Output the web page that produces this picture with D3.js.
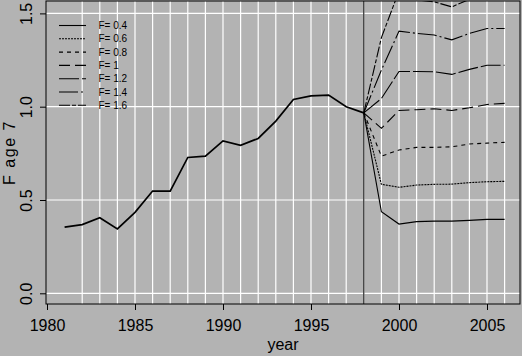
<!DOCTYPE html>
<html>
<head>
<meta charset="utf-8">
<script src="https://cdn.jsdelivr.net/npm/d3@7"></script>
<style>
  html, body { margin: 0; padding: 0; background: #b3b3b3; }
  svg { display: block; }
  text { font-family: "Liberation Sans", Arial, Helvetica, sans-serif; fill: #000; }
</style>
</head>
<body>
<svg id="chart" width="522" height="356"></svg>
<script>
// ---- data ----
const histYears = [1981,1982,1983,1984,1985,1986,1987,1988,1989,1990,1991,1992,1993,1994,1995,1996,1997,1998];
const histF = [0.355,0.368,0.405,0.345,0.434,0.548,0.548,0.728,0.735,0.817,0.793,0.830,0.923,1.039,1.058,1.062,1.000,0.967];

const projYears = [1998,1999,2000,2001,2002,2003,2004,2005,2006];
const projF04 = [0.967,0.437,0.371,0.384,0.387,0.387,0.391,0.396,0.396];
const projF06 = [0.967,0.584,0.568,0.580,0.584,0.585,0.593,0.598,0.600];
const projF08 = [0.967,0.735,0.768,0.782,0.782,0.785,0.800,0.805,0.809];
const projF10 = [0.967,0.884,0.980,0.984,0.989,0.980,0.994,1.012,1.018];
const projF12 = [0.967,1.044,1.189,1.189,1.187,1.173,1.200,1.222,1.222];
const projF14 = [0.967,1.196,1.405,1.393,1.384,1.358,1.393,1.419,1.419];
const projF16 = [0.967,1.370,1.620,1.572,1.562,1.535,1.575,1.608,1.615];

const seriesLabels = ["F= 0.4","F= 0.6","F= 0.8","F= 1","F= 1.2","F= 1.4","F= 1.6"];
const seriesValues = [projF04, projF06, projF08, projF10, projF12, projF14, projF16];
const seriesDash = ["none","2,1","4,4","11,5","20,3","19,3,2,3","11,2,4,2"];

const xTicks = [1980,1985,1990,1995,2000,2005];
const yTicks = [0.0,0.5,1.0,1.5];
const yTickLabels = ["0.0","0.5","1.0","1.5"];
const gridYears = d3.range(1982, 2007);
const refYear = 1998;

// ---- layout ----
const box = {left: 46, right: 520, top: 1, bottom: 304};
const svg = d3.select("#chart");

const x = d3.scaleLinear()
  .domain([1980 - 1/17.6, 1980 + 473/17.6])
  .range([box.left, box.right]);
const y = d3.scaleLinear()
  .domain([-0.0573, 1.5664])
  .range([box.bottom, box.top]);

// clip
svg.append("defs").append("clipPath").attr("id","clip")
  .append("rect").attr("x", box.left).attr("y", box.top)
  .attr("width", box.right - box.left).attr("height", box.bottom - box.top);

// grid
const grid = svg.append("g");
grid.selectAll("line.v").data(gridYears).join("line")
  .attr("x1", d => x(d)).attr("x2", d => x(d))
  .attr("y1", box.top).attr("y2", box.bottom)
  .attr("stroke", "#fff").attr("stroke-width", 1.2);
grid.selectAll("line.h").data(yTicks).join("line")
  .attr("x1", box.left).attr("x2", box.right)
  .attr("y1", d => y(d)).attr("y2", d => y(d))
  .attr("stroke", "#fff").attr("stroke-width", 1.2);

// reference line
svg.append("line")
  .attr("x1", x(refYear)).attr("x2", x(refYear))
  .attr("y1", box.top).attr("y2", box.bottom)
  .attr("stroke", "#000").attr("stroke-width", 1);

// lines
const plot = svg.append("g").attr("clip-path", "url(#clip)");
const line = d3.line().x(d => x(d[0])).y(d => y(d[1]));

plot.append("path")
  .datum(histYears.map((yr, i) => [yr, histF[i]]))
  .attr("d", line).attr("fill","none")
  .attr("stroke","#000").attr("stroke-width",1.7);

seriesValues.forEach((vals, k) => {
  plot.append("path")
    .datum(projYears.map((yr, i) => [yr, vals[i]]))
    .attr("d", line).attr("fill","none")
    .attr("stroke","#000").attr("stroke-width",1.1)
    .attr("stroke-dasharray", seriesDash[k]);
});

// box
svg.append("rect")
  .attr("x", box.left).attr("y", box.top)
  .attr("width", box.right - box.left).attr("height", box.bottom - box.top)
  .attr("fill","none").attr("stroke","#000").attr("stroke-width",1);

// x axis
const xAxis = svg.append("g").attr("transform", `translate(0,${box.bottom})`)
  .call(d3.axisBottom(x).tickValues(xTicks).tickFormat(d3.format("d")).tickSize(6).tickPadding(10));
xAxis.select(".domain").remove();
xAxis.selectAll("line").attr("stroke","#000");
xAxis.selectAll("text").attr("font-size", 16).attr("font-family", null).attr("fill","#000");

// y axis
const yAxis = svg.append("g").attr("transform", `translate(${box.left},0)`)
  .call(d3.axisLeft(y).tickValues(yTicks).tickFormat((d, i) => yTickLabels[i]).tickSize(6));
yAxis.select(".domain").remove();
yAxis.selectAll("line").attr("stroke","#000");
yAxis.selectAll("text")
  .attr("font-size", 16).attr("font-family", null).attr("fill","#000")
  .attr("x", 0).attr("y", -14).attr("dy", null)
  .attr("text-anchor", "middle")
  .attr("transform", "rotate(-90)");

// axis titles
svg.append("text").attr("x", (box.left + box.right) / 2).attr("y", 350)
  .attr("text-anchor","middle").attr("font-size",16).text("year");
svg.append("text")
  .attr("transform", `translate(15,${(box.top + box.bottom) / 2}) rotate(-90)`)
  .attr("text-anchor","middle").attr("font-size",16)
  .attr("letter-spacing", 1.5).text("F age 7");

// legend
const leg = svg.append("g");
seriesLabels.forEach((lab, k) => {
  const yy = 25.5 + k * 13.3;
  leg.append("line").attr("x1", 59).attr("x2", 86).attr("y1", yy).attr("y2", yy)
    .attr("stroke","#000").attr("stroke-width",1.1)
    .attr("stroke-dasharray", seriesDash[k]);
  leg.append("text").attr("x", 98.5).attr("y", yy + 3.6)
    .attr("font-size", 10).text(lab);
});
</script>
</body>
</html>
